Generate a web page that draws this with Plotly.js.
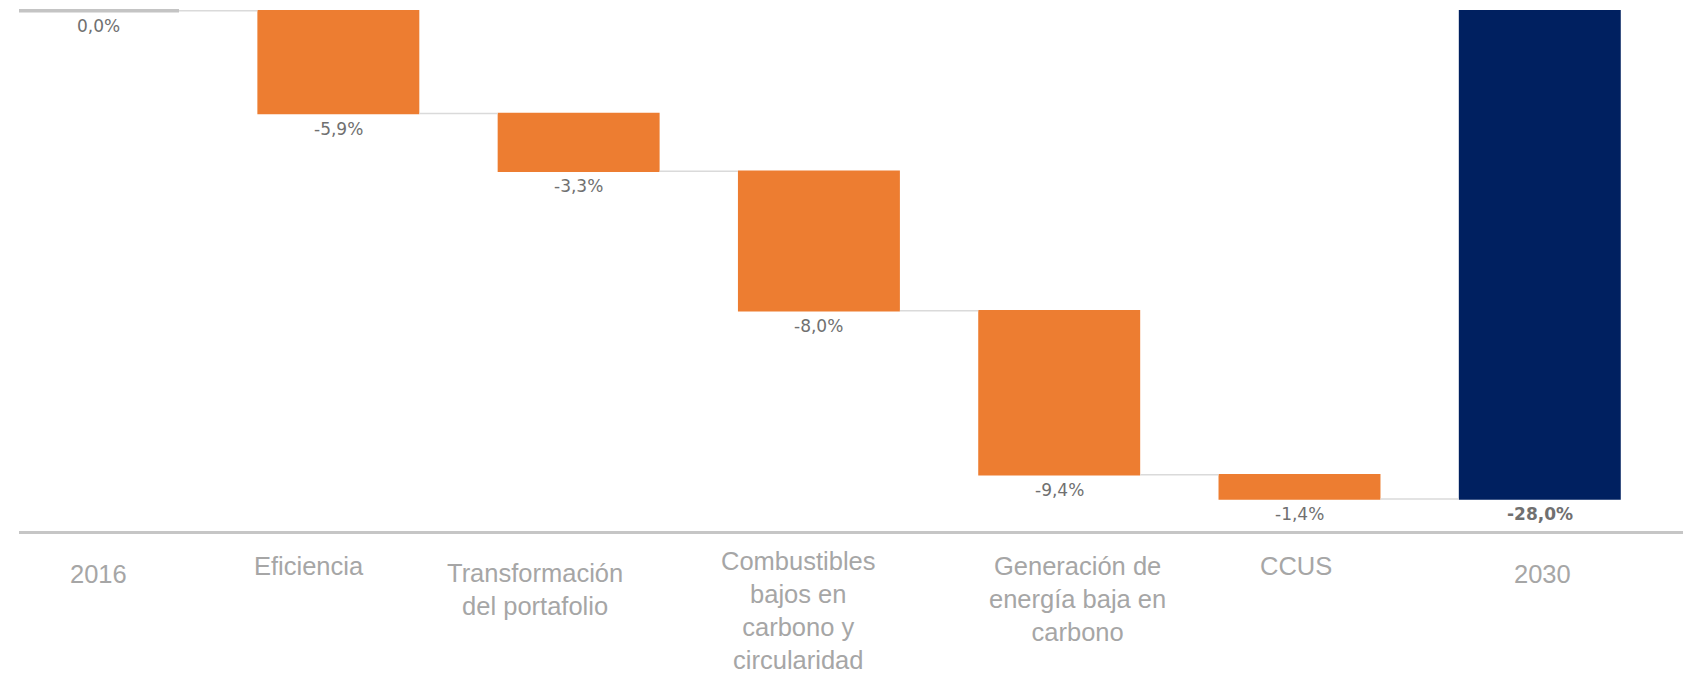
<!DOCTYPE html>
<html>
<head>
<meta charset="utf-8">
<script src="https://cdn.plot.ly/plotly-3.0.1.min.js"></script>
<style>
  html, body { margin: 0; padding: 0; background: #ffffff; }
  #chart { width: 1683px; height: 677px; }
</style>
</head>
<body>
<div id="chart"></div>
<script>
// ---- data ----
const categories = [
  "2016",
  "Eficiencia",
  "Transformación<br>del portafolio",
  "Combustibles<br>bajos en<br>carbono y<br>circularidad",
  "Generación de<br>energía baja en<br>carbono",
  "CCUS",
  "2030"
];
const measures = ["absolute", "relative", "relative", "relative", "relative", "relative", "total"];
const values = [0.0, -5.9, -3.3, -8.0, -9.4, -1.4, null];

// ---- derived (cumulative ends) ----
const ends = [];
let run = 0;
measures.forEach((m, i) => {
  if (m === "absolute") run = values[i];
  else if (m === "relative") run += values[i];
  ends.push(run);
});
const fmt = v => (Math.abs(v) < 1e-9 ? 0 : v).toFixed(1).replace(".", ",") + "%";
const labelValues = measures.map((m, i) => (m === "relative" ? values[i] : ends[i]));
const labels = labelValues.map(fmt);

// ---- style constants ----
const ORANGE = "#ED7D31";
const NAVY = "#002060";
const GAP = 0.326;
const BASELINE_THICKNESS = 0.2; // thickness (axis units) of the grey 2016 baseline bar
// per-category label offsets in pixels (layout style, as in the original slide)
const catLabelXShift = [0, -29, -44, -21, 18, -4, 3];
const catLabelYShift = [-28, -20, -27, -15, -20, -20, -28];

const waterfall = {
  type: "waterfall",
  x: categories.map((c, i) => i),
  y: values.map(v => (v === null ? 0 : v)),
  measure: measures,
  decreasing: { marker: { color: ORANGE } },
  increasing: { marker: { color: ORANGE } },
  totals: { marker: { color: NAVY } },
  connector: { mode: "between", line: { color: "#dadada", width: 1.5 } },
  hoverinfo: "skip",
  textinfo: "none"
};

// grey baseline for the zero-valued 2016 start
const startLine = {
  type: "bar",
  x: [0],
  base: [ends[0] + BASELINE_THICKNESS / 2],
  y: [-BASELINE_THICKNESS],
  marker: { color: "#c4c4c4" },
  hoverinfo: "skip"
};

const valueAnnotations = categories.map((c, i) => ({
  x: i,
  y: ends[i],
  xref: "x",
  yref: "y",
  text: labels[i],
  showarrow: false,
  yanchor: "top",
  yshift: -3,
  font: {
    family: "DejaVu Sans",
    size: 17,
    color: "#707070",
    weight: i === categories.length - 1 ? "bold" : "normal"
  }
}));

const categoryAnnotations = categories.map((c, i) => ({
  x: i,
  y: 0,
  xref: "x",
  yref: "paper",
  text: c,
  showarrow: false,
  yanchor: "top",
  xanchor: "center",
  align: "center",
  borderpad: 0,
  xshift: catLabelXShift[i],
  yshift: catLabelYShift[i],
  font: { family: "Liberation Sans, Arial, sans-serif", size: 25.5, color: "#a6a6a6" }
}));

const layout = {
  width: 1683,
  height: 677,
  paper_bgcolor: "#ffffff",
  plot_bgcolor: "#ffffff",
  showlegend: false,
  margin: { l: 19, r: 0, t: 0, b: 146, pad: 0 },
  waterfallgap: GAP,
  bargap: GAP,
  xaxis: {
    type: "linear",
    range: [-0.329, 6.596],
    showgrid: false,
    zeroline: false,
    showline: true,
    linecolor: "#c6c6c6",
    linewidth: 3,
    ticks: "",
    showticklabels: false,
    fixedrange: true
  },
  yaxis: {
    range: [-29.83, 0.614],
    visible: false,
    showgrid: false,
    zeroline: false,
    fixedrange: true
  },
  annotations: valueAnnotations.concat(categoryAnnotations)
};

Plotly.newPlot("chart", [waterfall, startLine], layout, { displayModeBar: false, staticPlot: true });
</script>
</body>
</html>
